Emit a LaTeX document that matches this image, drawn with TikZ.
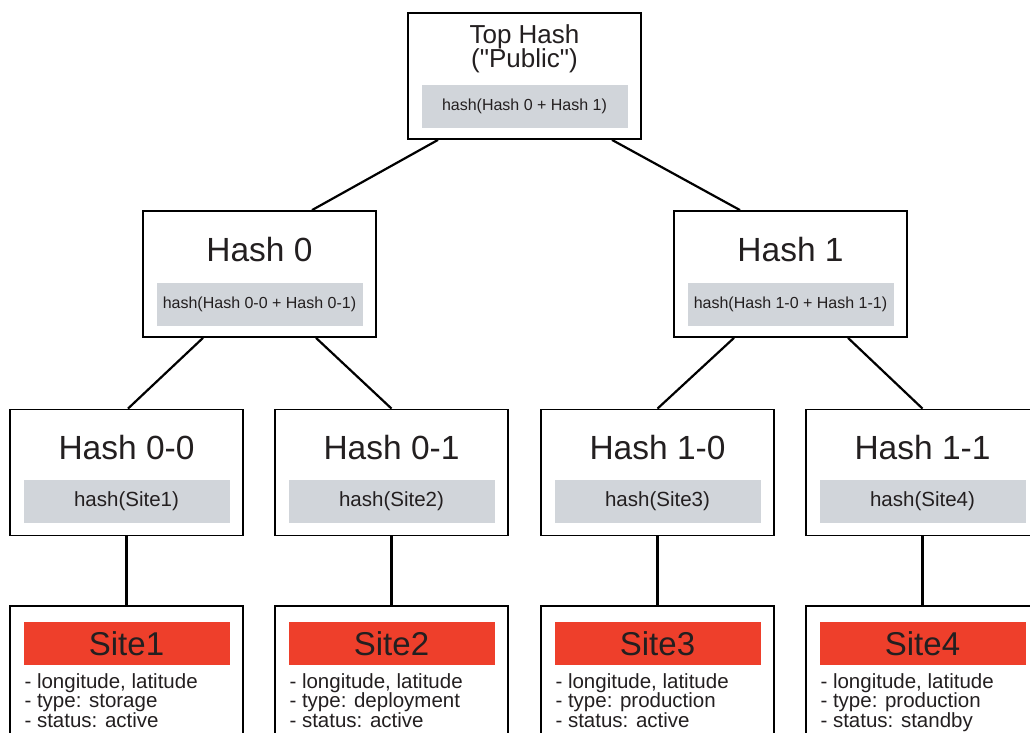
\documentclass[tikz,border=0pt]{standalone}
\usepackage{fontspec}
\setmainfont{Liberation Sans}[Ligatures=TeXOff]
\usepackage{xcolor}
\definecolor{Ink}{HTML}{231F20}
\definecolor{HashGrey}{HTML}{D1D5DA}
\definecolor{SiteRed}{HTML}{EE3F2B}
\usetikzlibrary{positioning, calc}
\tikzstyle{box} = [rectangle, draw=black, fill=white, minimum width=233pt, minimum height=126pt, line width=1.8pt, inner sep=0pt]
\tikzstyle{band} = [rectangle, fill=HashGrey, text=Ink, minimum width=206pt, minimum height=43pt, inner sep=0pt, anchor=south]
\tikzstyle{sitebar} = [rectangle, fill=SiteRed, text=Ink, minimum width=206pt, minimum height=43pt, inner sep=0pt, anchor=north, font=\fontsize{33}{36}\selectfont]
\tikzstyle{title} = [text=Ink, anchor=base, font=\fontsize{33.5}{36}\selectfont]
\tikzstyle{info} = [text=Ink, anchor=north west, inner sep=0pt, align=left, font=\fontsize{20.5}{19.8}\selectfont]
\tikzstyle{line} = [line width=2.2pt, color=black]

\begin{document}
\begin{tikzpicture}[x=1pt, y=-1pt]
        \clip (0,0) rectangle (1030,733);

        % Root
        \node [box] (top) at (524.5,76) {};
        \node [text=Ink, anchor=north, align=center, inner sep=0pt, font=\fontsize{26}{24.4}\selectfont] (toptitle) at ($(top.north)+(0,12)$) {Top Hash\\("Public")};
        \node [band, font=\fontsize{16}{18}\selectfont] (topband) at ($(top.south)+(0,-12)$) {hash(Hash 0 + Hash 1)};

        % Second level
        \node [box] (h0) at (259.5,274) {};
        \node [title] (h0title) at ($(h0.north)+(0,51)$) {Hash 0};
        \node [band, font=\fontsize{16}{18}\selectfont] (h0band) at ($(h0.south)+(0,-12)$) {hash(Hash 0-0 + Hash 0-1)};
        \node [box] (h1) at (790.5,274) {};
        \node [title] (h1title) at ($(h1.north)+(0,51)$) {Hash 1};
        \node [band, font=\fontsize{16}{18}\selectfont] (h1band) at ($(h1.south)+(0,-12)$) {hash(Hash 1-0 + Hash 1-1)};

        % Leaves
        \node [box] (h00) at (126.5,472.5) {};
        \node [title] (h00title) at ($(h00.north)+(0,51)$) {Hash 0-0};
        \node [band, font=\fontsize{20.5}{22}\selectfont] (h00band) at ($(h00.south)+(0,-13.5)$) {hash(Site1)};
        \node [box] (h01) at (391.5,472.5) {};
        \node [title] (h01title) at ($(h01.north)+(0,51)$) {Hash 0-1};
        \node [band, font=\fontsize{20.5}{22}\selectfont] (h01band) at ($(h01.south)+(0,-13.5)$) {hash(Site2)};
        \node [box] (h10) at (657.5,472.5) {};
        \node [title] (h10title) at ($(h10.north)+(0,51)$) {Hash 1-0};
        \node [band, font=\fontsize{20.5}{22}\selectfont] (h10band) at ($(h10.south)+(0,-13.5)$) {hash(Site3)};
        \node [box] (h11) at (922.5,472.5) {};
        \node [title] (h11title) at ($(h11.north)+(0,51)$) {Hash 1-1};
        \node [band, font=\fontsize{20.5}{22}\selectfont] (h11band) at ($(h11.south)+(0,-13.5)$) {hash(Site4)};

        % Sites
        \node [box, minimum height=140pt] (s1) at (126.5,676) {};
        \node [sitebar] (s1bar) at ($(s1.north)+(0,17)$) {Site1};
        \node [info] (s1info) at ($(s1bar.south west)+(1,7.5)$) {- longitude, latitude\\- type: storage\\- status: active};
        \node [box, minimum height=140pt] (s2) at (391.5,676) {};
        \node [sitebar] (s2bar) at ($(s2.north)+(0,17)$) {Site2};
        \node [info] (s2info) at ($(s2bar.south west)+(1,7.5)$) {- longitude, latitude\\- type: deployment\\- status: active};
        \node [box, minimum height=140pt] (s3) at (657.5,676) {};
        \node [sitebar] (s3bar) at ($(s3.north)+(0,17)$) {Site3};
        \node [info] (s3info) at ($(s3bar.south west)+(1,7.5)$) {- longitude, latitude\\- type: production\\- status: active};
        \node [box, minimum height=140pt] (s4) at (922.5,676) {};
        \node [sitebar] (s4bar) at ($(s4.north)+(0,17)$) {Site4};
        \node [info] (s4info) at ($(s4bar.south west)+(1,7.5)$) {- longitude, latitude\\- type: production\\- status: standby};

        % Connect nodes
        \draw [line] ([xshift=-86.5pt]top.south) -- ([xshift=52.5pt]h0.north);
        \draw [line] ([xshift=87.5pt]top.south) -- ([xshift=-50.5pt]h1.north);
        \draw [line] ([xshift=-56.5pt]h0.south) -- ([xshift=1.5pt]h00.north);
        \draw [line] ([xshift=56.5pt]h0.south) -- (h01.north);
        \draw [line] ([xshift=-56.5pt]h1.south) -- (h10.north);
        \draw [line] ([xshift=57.5pt]h1.south) -- (h11.north);
        \draw [line] (h00) -- (s1);
        \draw [line] (h01) -- (s2);
        \draw [line] (h10) -- (s3);
        \draw [line] (h11) -- (s4);
    \end{tikzpicture}
\end{document}
